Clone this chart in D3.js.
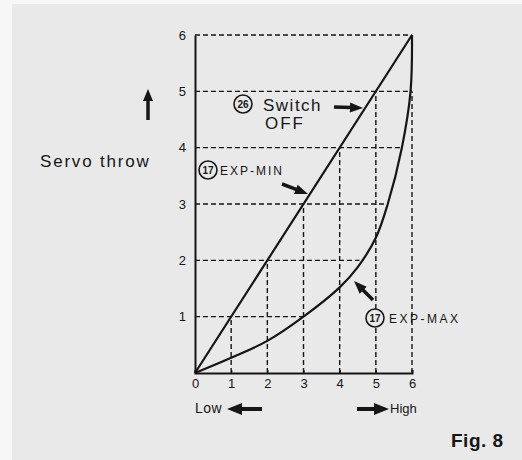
<!DOCTYPE html>
<html>
<head>
<meta charset="utf-8">
<script src="https://cdn.jsdelivr.net/npm/d3@7"></script>
<style>
  body { margin: 0; background: #fff; }
  text { font-family: "Liberation Sans", Arial, sans-serif; fill: #161616; }
</style>
</head>
<body>
<svg id="chart" width="522" height="460"></svg>
<script>
// axis ticks (0..6 on both axes)
const tickValues = [0, 1, 2, 3, 4, 5, 6];

// "Switch OFF" / EXP-MIN: straight line
const linearLine = [[0, 0], [6, 6]];

// EXP-MAX curve
const expMaxCurve = [[0, 0], [1, 0.27], [2, 0.57], [3, 1.0], [4, 1.52], [4.5, 1.88],
                     [5, 2.4], [5.33, 3], [5.72, 4], [5.96, 5], [6, 6]];

// dashed grid: horizontal lines at y = 1..6 run from x=0 to these x values
const gridYLevels = [1, 2, 3, 4, 5, 6];
const gridYEnds = [3, 4.55, 5.33, 5.72, 6, 6];
// vertical lines at x = 1..6 run from y=0 up to these y values
const gridXLevels = [1, 2, 3, 4, 5, 6];
const gridXTops = [1, 2, 3, 4, 5, 5];

const svg = d3.select('#chart');
const bg = '#e9e9e9';

// background (paper)
svg.append('rect').attr('x', 0).attr('y', 0).attr('width', 522).attr('height', 460).attr('fill', '#f7f7f7');
svg.append('rect').attr('x', 12).attr('y', 4).attr('width', 510).attr('height', 456).attr('fill', bg);

const x = d3.scaleLinear().domain([0, 6]).range([195, 412]);
const y = d3.scaleLinear().domain([0, 6]).range([373, 35]);

const ink = '#161616';

// grid
svg.append('g').selectAll('line')
    .data(gridYLevels)
    .enter()
    .append('line')
    .attr('x1', x(0))
    .attr('x2', (d, i) => x(gridYEnds[i]))
    .attr('y1', d => y(d))
    .attr('y2', d => y(d))
    .attr('stroke', ink)
    .attr('stroke-width', 1.4)
    .attr('stroke-dasharray', '5,3');

svg.append('g').selectAll('line')
    .data(gridXLevels)
    .enter()
    .append('line')
    .attr('x1', d => x(d))
    .attr('x2', d => x(d))
    .attr('y1', y(0))
    .attr('y2', (d, i) => y(gridXTops[i]))
    .attr('stroke', ink)
    .attr('stroke-width', 1.4)
    .attr('stroke-dasharray', '5,3');

// axes
svg.append('g')
    .attr('transform', 'translate(0,' + y(0) + ')')
    .call(d3.axisBottom(x).tickValues(tickValues).tickFormat(d3.format('d')).tickSize(-3).tickPadding(6))
    .call(g => {
        g.select('.domain').attr('stroke', ink).attr('stroke-width', 2);
        g.selectAll('line').attr('stroke', ink).attr('stroke-width', 1.3);
        g.selectAll('text').attr('font-size', 13).attr('fill', ink)
            .style('font-family', '"Liberation Sans", Arial, sans-serif');
    });

svg.append('g')
    .attr('transform', 'translate(' + x(0) + ',0)')
    .call(d3.axisLeft(y).tickValues(tickValues.slice(1)).tickFormat(d3.format('d')).tickSize(0).tickPadding(9))
    .call(g => {
        g.select('.domain').attr('stroke', ink).attr('stroke-width', 2);
        g.selectAll('text').attr('font-size', 13).attr('fill', ink)
            .style('font-family', '"Liberation Sans", Arial, sans-serif');
    });

// curves
const line = d3.line().x(d => x(d[0])).y(d => y(d[1]));
svg.append('path')
    .attr('d', line(linearLine))
    .attr('fill', 'none').attr('stroke', ink).attr('stroke-width', 2.2);

svg.append('path')
    .attr('d', line.curve(d3.curveCatmullRom.alpha(0.5))(expMaxCurve))
    .attr('fill', 'none').attr('stroke', ink).attr('stroke-width', 2.2);

// arrow helper
function arrow(x1, y1, x2, y2, headLen, headW, shaftW) {
    let dx = x2 - x1, dy = y2 - y1;
    let len = Math.sqrt(dx * dx + dy * dy);
    let ux = dx / len, uy = dy / len;
    let px = -uy, py = ux;
    let bx = x2 - ux * headLen, by = y2 - uy * headLen;
    svg.append('line')
        .attr('x1', x1).attr('y1', y1).attr('x2', bx + ux).attr('y2', by + uy)
        .attr('stroke', ink).attr('stroke-width', shaftW);
    svg.append('path')
        .attr('d', 'M' + x2 + ',' + y2 +
            'L' + (bx + px * headW) + ',' + (by + py * headW) +
            'L' + (bx - px * headW) + ',' + (by - py * headW) + 'Z')
        .attr('fill', ink);
}

function circledNum(cx, cy, label) {
    svg.append('circle').attr('cx', cx).attr('cy', cy).attr('r', 9)
        .attr('fill', bg).attr('stroke', ink).attr('stroke-width', 1.6);
    svg.append('text').attr('x', cx).attr('y', cy + 3.5)
        .attr('text-anchor', 'middle').attr('font-size', 10).attr('font-weight', 'bold')
        .text(label);
}

// Switch OFF label
circledNum(243, 104, '26');
svg.append('text').attr('x', 263).attr('y', 111).attr('font-size', 17)
    .attr('letter-spacing', 1.5).text('Switch');
svg.append('text').attr('x', 265).attr('y', 129).attr('font-size', 17)
    .attr('letter-spacing', 2).text('OFF');
arrow(334, 107, 363, 108, 13, 5, 3.5);

// EXP-MIN
circledNum(208, 170, '17');
svg.append('text').attr('x', 220).attr('y', 175).attr('font-size', 12)
    .attr('letter-spacing', 2).text('EXP-MIN');
arrow(282, 184, 308, 194, 13, 5, 3.5);

// EXP-MAX
circledNum(375, 318, '17');
svg.append('text').attr('x', 389).attr('y', 323).attr('font-size', 12)
    .attr('letter-spacing', 2.5).text('EXP-MAX');
arrow(373, 300, 354, 281, 13, 5, 3.5);

// y-axis title
svg.append('text').attr('x', 40).attr('y', 167).attr('font-size', 17)
    .attr('letter-spacing', 1.8).text('Servo throw');
arrow(148, 120, 148, 89, 12, 5, 3.5);

// x-axis direction labels
svg.append('text').attr('x', 195).attr('y', 413).attr('font-size', 14)
    .attr('letter-spacing', 0.5).text('Low');
arrow(262, 409, 227, 409, 15, 6, 4);
arrow(357, 409, 389, 409, 15, 6, 4);
svg.append('text').attr('x', 390).attr('y', 413).attr('font-size', 13).text('High');

// figure label
svg.append('text').attr('x', 451).attr('y', 447).attr('font-size', 19)
    .attr('font-weight', 'bold').attr('letter-spacing', 0.5).text('Fig. 8');
</script>
</body>
</html>
